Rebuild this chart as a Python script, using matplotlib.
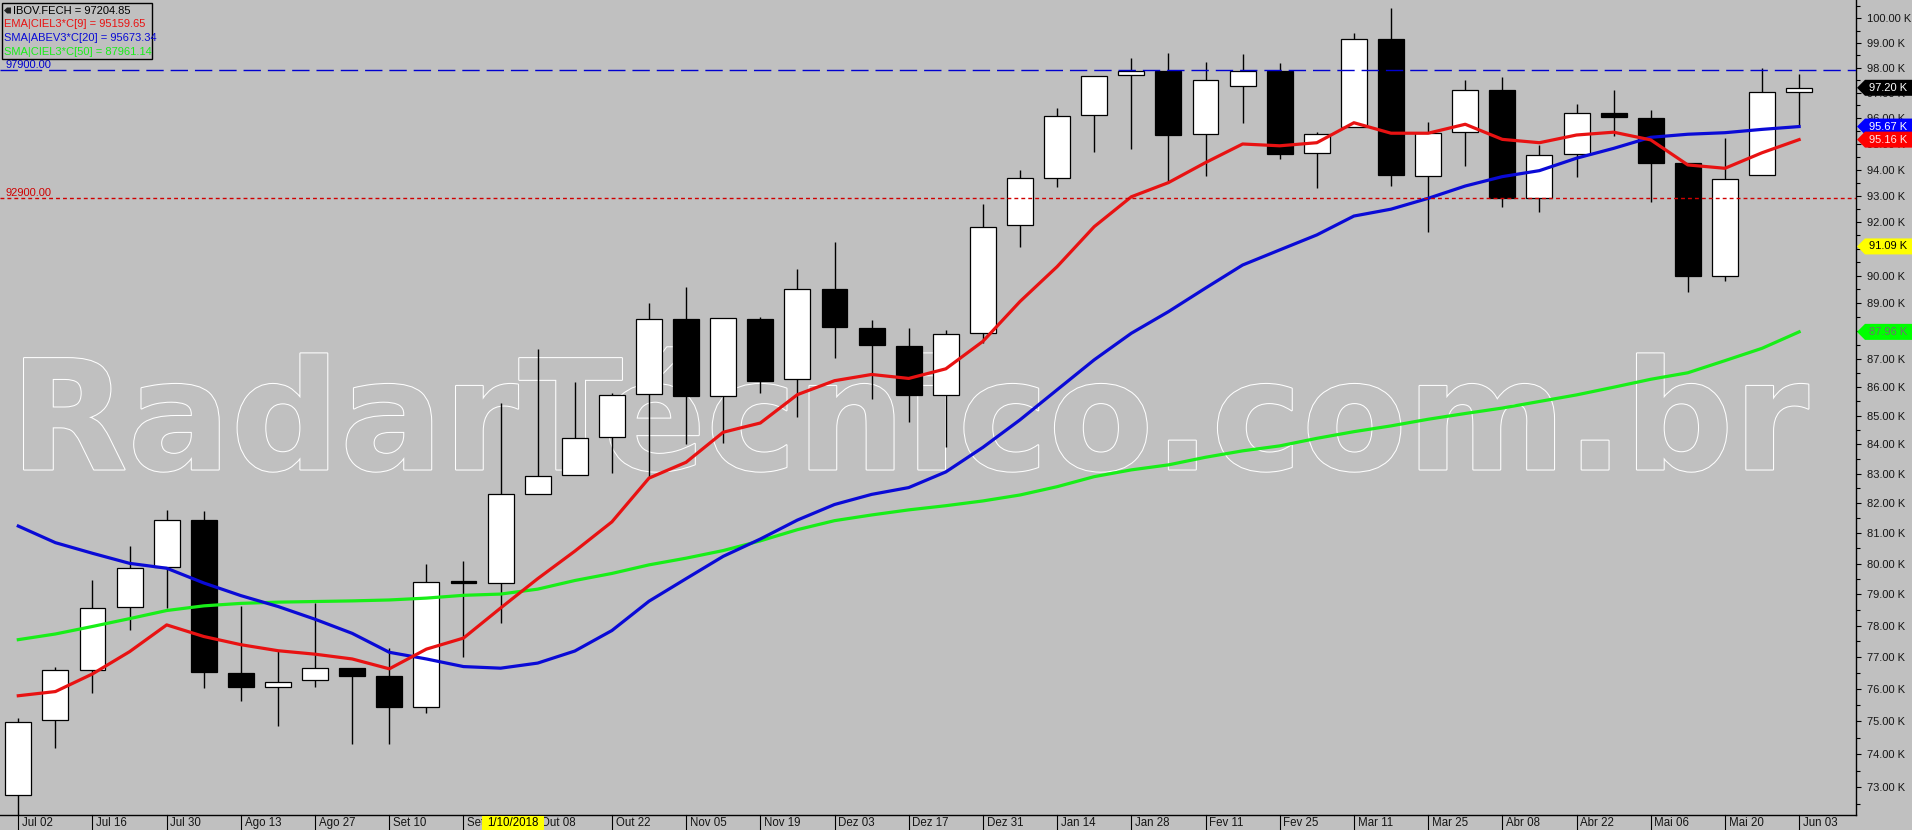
import numpy as np
import matplotlib

matplotlib.use("Agg")
from matplotlib import pyplot as plt
from matplotlib import font_manager
from matplotlib.patches import Rectangle, Polygon
from matplotlib.transforms import IdentityTransform, blended_transform_factory
from matplotlib.ticker import FixedLocator, FuncFormatter, NullFormatter
import matplotlib.patheffects as pe

# weekly IBOV candles, thousands of points, Jul 02 2018 .. Jun 03 2019
opens = [72.78, 75.05, 76.60, 78.58, 79.88, 81.45, 76.49, 76.06, 76.28, 76.65,
         76.41, 75.44, 79.45, 79.37, 82.33, 82.94, 84.26, 85.76, 88.41, 85.67,
         88.44, 86.28, 89.50, 88.09, 87.44, 85.71, 87.93, 91.88, 93.67, 96.11,
         97.70, 97.88, 95.37, 97.26, 97.88, 94.63, 95.67, 99.15, 93.75, 95.45,
         97.11, 92.91, 94.60, 96.21, 96.01, 94.24, 90.01, 93.78, 97.05]
highs = [75.10, 76.68, 79.47, 80.58, 81.78, 81.74, 78.64, 77.23, 78.73, 76.65,
         77.28, 80.00, 80.09, 85.43, 87.34, 86.18, 85.77, 89.00, 89.59, 88.47,
         88.50, 90.26, 91.26, 88.39, 88.10, 88.02, 92.69, 93.99, 96.41, 97.66,
         98.40, 98.61, 98.24, 98.55, 98.18, 95.47, 99.39, 100.41, 95.84, 97.51,
         97.62, 94.94, 96.56, 97.11, 96.32, 94.24, 95.21, 97.98, 97.75]
lows = [72.19, 74.20, 75.89, 77.86, 78.55, 76.04, 75.64, 74.87, 76.06, 74.30,
        74.30, 75.26, 77.01, 78.09, 82.33, 82.94, 83.04, 82.89, 84.02, 84.06,
        85.79, 84.95, 87.04, 85.57, 84.77, 83.90, 87.55, 91.08, 93.35, 94.69,
        94.80, 93.50, 93.77, 95.82, 94.42, 93.31, 95.67, 93.38, 91.62, 94.15,
        92.56, 92.37, 93.73, 95.30, 92.77, 89.42, 89.82, 93.78, 95.69]
closes = [74.99, 76.60, 78.55, 79.85, 81.45, 76.52, 76.06, 76.23, 76.65, 76.42,
          75.44, 79.41, 79.36, 82.30, 82.92, 84.21, 85.70, 88.41, 85.67, 88.47,
          86.22, 89.50, 88.13, 87.48, 85.71, 87.87, 91.83, 93.67, 96.07, 97.66,
          97.88, 95.35, 97.51, 97.87, 94.61, 95.37, 99.15, 93.78, 95.41, 97.10,
          92.91, 94.55, 96.21, 96.03, 94.27, 90.01, 93.63, 97.02, 97.20]

ema9 = [75.79, 75.92, 76.47, 77.17, 78.02, 77.65, 77.39, 77.20, 77.09, 76.94,
        76.63, 77.25, 77.60, 78.56, 79.51, 80.41, 81.38, 82.85, 83.39, 84.42,
        84.74, 85.73, 86.22, 86.44, 86.30, 86.64, 87.62, 89.06, 90.34, 91.83,
        92.96, 93.50, 94.27, 94.99, 94.92, 95.04, 95.82, 95.41, 95.41, 95.76,
        95.17, 95.04, 95.34, 95.45, 95.15, 94.18, 94.05, 94.65, 95.16]
sma20 = [81.24, 80.69, 80.34, 80.01, 79.85, 79.37, 78.96, 78.61, 78.20, 77.75,
         77.15, 76.94, 76.70, 76.65, 76.81, 77.19, 77.84, 78.78, 79.51, 80.24,
         80.81, 81.44, 81.96, 82.30, 82.53, 83.06, 83.90, 84.85, 85.90, 86.96,
         87.91, 88.69, 89.55, 90.40, 90.96, 91.52, 92.23, 92.49, 92.90, 93.37,
         93.73, 93.96, 94.44, 94.82, 95.25, 95.37, 95.43, 95.56, 95.67]
sma50 = [77.55, 77.73, 77.97, 78.22, 78.48, 78.63, 78.71, 78.75, 78.77, 78.79,
         78.82, 78.88, 78.97, 79.01, 79.17, 79.45, 79.68, 79.96, 80.18, 80.43,
         80.75, 81.12, 81.42, 81.61, 81.78, 81.92, 82.08, 82.28, 82.56, 82.90,
         83.13, 83.30, 83.56, 83.78, 83.95, 84.21, 84.44, 84.64, 84.87, 85.07,
         85.26, 85.49, 85.72, 85.99, 86.27, 86.50, 86.93, 87.37, 87.96]

# one label every two weeks
date_labels = ["Jul 02", "Jul 16", "Jul 30", "Ago 13", "Ago 27", "Set 10", "Set 24",
               "Out 08", "Out 22", "Nov 05", "Nov 19", "Dez 03", "Dez 17", "Dez 31",
               "Jan 14", "Jan 28", "Fev 11", "Fev 25", "Mar 11", "Mar 25", "Abr 08",
               "Abr 22", "Mai 06", "Mai 20", "Jun 03"]

legend_names = ["IBOV.FECH", "EMA|CIEL3*C[9]", "SMA|ABEV3*C[20]", "SMA|CIEL3*C[50]"]
legend_values = [97204.85, 95159.65, 95673.34, 87961.14]
alert_levels = [97.9, 92.9]
yellow_level = 91.09
cursor_week = 13
cursor_text = "1/10/2018"

BG = "#c0c0c0"
RED = "#e81212"
BLUE = "#0a0ad6"
GREEN = "#18ee18"
W, H = 1912, 830


def pick_font(names):
    for name in names:
        try:
            font_manager.findfont(name, fallback_to_default=False)
            return name
        except Exception:
            pass
    return "DejaVu Sans"


SANS = pick_font(["Liberation Sans", "Arial"])
NARROW = pick_font(["Liberation Sans Narrow", "Liberation Sans"])

fig = plt.figure(figsize=(W / 100, H / 100), dpi=100, facecolor=BG)
ax = fig.add_axes([0, 15 / H, 1856 / W, 815 / H])
ax.set_facecolor(BG)
ax.set_yscale("log")
ax.set_ylim(72.18, 100.756)
ax.set_xlim(-0.493, 49.533)

for side in ["left", "top"]:
    ax.spines[side].set_visible(False)
for side in ["right", "bottom"]:
    ax.spines[side].set_color("black")
    ax.spines[side].set_linewidth(1)

# right price axis
ax.yaxis.tick_right()
ax.yaxis.set_major_locator(FixedLocator(np.arange(73, 101)))
ax.yaxis.set_minor_locator(FixedLocator(np.arange(72.5, 101, 1.0)))
ax.yaxis.set_major_formatter(FuncFormatter(lambda v, p: "%.2f K" % v))
ax.yaxis.set_minor_formatter(NullFormatter())
ax.tick_params(axis="y", which="major", length=3.6, width=0.8, pad=4,
               labelsize=8, labelcolor="#151515", direction="out")
ax.tick_params(axis="y", which="minor", length=2.6, width=0.8, direction="out")
for lab in ax.get_yticklabels():
    lab.set_family(SANS)
ax.set_xticks([])

# watermark
ax.text(10 / 1856, (815 - 469.5) / 815, "RadarTécnico.com.br", transform=ax.transAxes,
        fontsize=110, fontweight="bold", family="DejaVu Sans", color=BG,
        va="baseline", ha="left", zorder=0.5,
        path_effects=[pe.withStroke(linewidth=1.5, foreground="white")])

# candles
x = np.arange(len(closes))
ax.vlines(x, lows, highs, color="black", lw=1, zorder=2)
for i in x:
    o, c = opens[i], closes[i]
    face = "white" if c >= o else "black"
    ax.add_patch(Rectangle((i - 0.35, min(o, c)), 0.7, abs(c - o), fc=face,
                           ec="black", lw=0.9, zorder=3))

ax.plot(x, sma50, color=GREEN, lw=2.3, zorder=4)
ax.plot(x, sma20, color=BLUE, lw=2.3, zorder=4)
ax.plot(x, ema9, color=RED, lw=2.3, zorder=4)

# alert lines
ax.axhline(alert_levels[0], color="#0000d0", lw=1, dashes=(12.5, 5), zorder=5)
ax.axhline(alert_levels[1], color="#d00000", lw=1, dashes=(2.8, 2.2), zorder=5)
yax = blended_transform_factory(ax.transAxes, ax.transData)
ax.text(5 / 1856, alert_levels[0], "%.2f" % (alert_levels[0] * 1000), transform=yax,
        color="#0000d0", fontsize=8, family=SANS, va="bottom")
ax.text(5 / 1856, alert_levels[1], "%.2f" % (alert_levels[1] * 1000), transform=yax,
        color="#d00000", fontsize=8, family=SANS, va="bottom")

# date axis
xax = blended_transform_factory(ax.transData, ax.transAxes)
for j, lab in enumerate(date_labels):
    i = 2 * j
    ax.plot([i, i], [0, -15 / 815], transform=xax, color="black", lw=0.8, clip_on=False)
    ax.text(i + 0.1, -7.5 / 815, lab, transform=xax, fontsize=8.3, family=NARROW,
            color="#151515", va="center", ha="left", clip_on=False)
ax.add_patch(Rectangle((cursor_week - 0.5, -15 / 815), 1.67, 14 / 815, transform=xax,
                       fc="#ffff00", ec="none", clip_on=False, zorder=6))
ax.text(cursor_week + 0.335, -8 / 815, cursor_text, transform=xax, fontsize=8.3,
        family=NARROW, color="black", va="center", ha="center", clip_on=False, zorder=7)


def price_tag(value, face, text_color):
    y = ax.transData.transform((0, value))[1]
    x0 = ax.transAxes.transform((1, 0))[0]
    pts = [(x0 + 1, y), (x0 + 9, y + 8), (W, y + 8), (W, y - 8), (x0 + 9, y - 8)]
    fig.add_artist(Polygon(pts, closed=True, fc=face, ec="none",
                           transform=IdentityTransform()))
    fig.text(x0 + 13, y, "%.2f K" % value, transform=IdentityTransform(),
             color=text_color, fontsize=8, family=SANS, va="center")


price_tag(closes[-1], "black", "white")
price_tag(sma20[-1], "#0000ff", "white")
price_tag(ema9[-1], "#ff0000", "#ffe8e8")
price_tag(yellow_level, "#ffff00", "black")
price_tag(sma50[-1], "#00ff00", "#707070")

# legend box, top left
fig.add_artist(Rectangle((1.5, H - 58.5), 150, 56, fill=False, ec="black", lw=1,
                         transform=IdentityTransform()))
colors = ["black", RED, BLUE, GREEN]
for k in range(4):
    ty = H - (10.7 + 13.7 * k)
    tx = 13 if k == 0 else 4
    fig.text(tx, ty, "%s = %.2f" % (legend_names[k], legend_values[k]),
             transform=IdentityTransform(), color=colors[k], fontsize=8,
             family=SANS, va="center")
fig.add_artist(Polygon([(4, H - 10.5), (7, H - 7.5), (11, H - 7.5), (11, H - 13.5),
                        (7, H - 13.5)], closed=True, fc="#222222", ec="none",
                       transform=IdentityTransform()))

fig.savefig("out.png", dpi=100, facecolor=BG)
